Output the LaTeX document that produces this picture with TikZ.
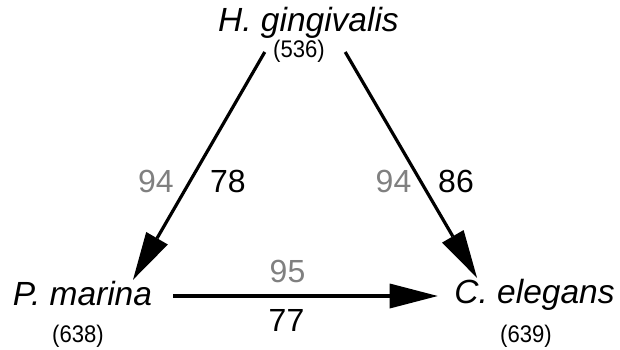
\documentclass[tikz,border=0pt]{standalone}
\usepackage{fontspec}
\setmainfont{Liberation Sans}
\newfontfamily\cntfont[FakeStretch=0.92]{Liberation Sans}
\usetikzlibrary{arrows.meta,positioning}
\definecolor{boot}{RGB}{128,128,128}

\begin{document}
\begin{tikzpicture}[x=1pt,y=-1pt,
    species/.style={inner sep=0pt,anchor=base,font=\itshape\fontsize{33.5}{33.5}\selectfont,text height=24pt,text depth=0pt},
    count/.style={inner sep=0pt,anchor=base,font=\cntfont\fontsize{24}{24}\selectfont,text height=17.5pt,text depth=0pt},
    support/.style={inner sep=0pt,anchor=base,font=\fontsize{32}{32}\selectfont},
    arr/.style={line width=3.2pt,-{Triangle[length=48pt,width=25pt,line width=0pt]}}]
  \useasboundingbox (0,0) rectangle (620,350);
  % species and gene counts
  \node[species] (hg) at (308.5,32) {H. gingivalis};
  \node[count] (hgn) at (299,58) {(536)};
  \node[species] (pm) at (82.5,305) {P. marina};
  \node[count] (pmn) at (78,342) {(638)};
  \node[species] (ce) at (534.5,303) {C. elegans};
  \node[count] (cen) at (526,342) {(639)};
  % support values
  \foreach \n/\x/\y/\c/\t in {g1/156/192/boot/94, b1/228/192/black/78,
      g2/393.5/192/boot/94, b2/456/192/black/86,
      g3/287.5/282/boot/95, b3/286.5/331/black/77}
    \node[support,text=\c] (\n) at (\x,\y) {\t};
  \draw[arr] ([shift={(-8.25,2.75)}]hgn.west) -- ([shift={(50.5,-1)}]pm.north);
  \draw[arr] ([shift={(20.25,2.75)}]hgn.east) -- ([shift={(-57.5,-1)}]ce.north);
  \draw[arr] ([shift={(20.8,3)}]pm.east) -- ([shift={(-16.5,5)}]ce.west);
\end{tikzpicture}
\end{document}
